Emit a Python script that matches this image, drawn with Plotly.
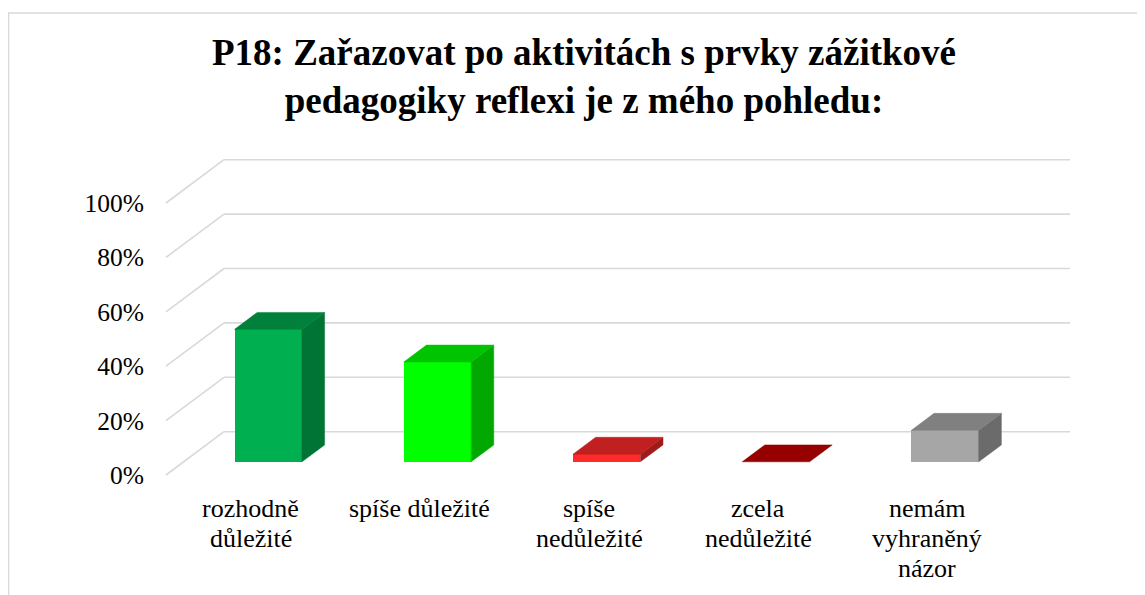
import plotly.graph_objects as go

# ---------------- data ----------------
categories = ["rozhodně důležité", "spíše důležité", "spíše nedůležité",
              "zcela nedůležité", "nemám vyhraněný názor"]
label_lines = [["rozhodně", "důležité"], ["spíše důležité"], ["spíše", "nedůležité"],
               ["zcela", "nedůležité"], ["nemám", "vyhraněný", "názor"]]
values = [48.7, 36.7, 2.8, 0.0, 11.6]          # percent
y_ticks = [0, 20, 40, 60, 80, 100]
y_tick_labels = ["0%", "20%", "40%", "60%", "80%", "100%"]
title_text = "P18: Zařazovat po aktivitách s prvky zážitkové<br>pedagogiky reflexi je z mého pohledu:"

front_colors = ["#00B050", "#00FF00", "#FF2B2B", "#C00000", "#A6A6A6"]
top_colors = ["#00803A", "#00C400", "#C02020", "#960000", "#808080"]
side_colors = ["#007434", "#00A800", "#A01A1A", "#7A0000", "#6B6B6B"]

# ---------------- pseudo-3D projection parameters ----------------
DX = 0.3428     # horizontal shift of full depth (category units)
DY = 15.92      # vertical shift of full depth (percent units)
ZF, ZB = 0.305, 0.695   # bar front/back depth fractions (0 = front, 1 = back)
BW = 0.398      # bar width in category units
FONT = "Liberation Serif"
GRID = "#D9D9D9"

W, H = 1137, 587          # page body has an 8px margin
L, T, PW, PH = 142, 132, 930, 350


def proj(xc, v, z):
    return xc - (1 - z) * DX, v - (1 - z) * DY


fig = go.Figure()

# front faces as real bars
xf = [proj(i + 0.5, 0, ZF)[0] for i in range(len(values))]
base = proj(0, 0, ZF)[1]
fig.add_trace(go.Bar(x=xf, y=values, base=base, width=BW,
                     marker=dict(color=front_colors, line=dict(width=0)),
                     hovertext=categories, showlegend=False))

dbx = (ZB - ZF) * DX
dby = (ZB - ZF) * DY
for i, v in enumerate(values):
    xl = xf[i] - BW / 2
    xr = xf[i] + BW / 2
    top = base + v
    if v > 0:
        fig.add_trace(go.Scatter(
            x=[xr, xr, xr + dbx, xr + dbx, xr], y=[base, top, top + dby, base + dby, base],
            fill="toself", fillcolor=side_colors[i], mode="lines",
            line=dict(width=0.5, color=side_colors[i]), hoverinfo="skip", showlegend=False))
    fig.add_trace(go.Scatter(
        x=[xl, xr, xr + dbx, xl + dbx, xl], y=[top, top, top + dby, top + dby, top],
        fill="toself", fillcolor=top_colors[i], mode="lines",
        line=dict(width=0.5, color=top_colors[i]), hoverinfo="skip", showlegend=False))

# gridlines: side wall diagonals + back wall horizontals
shapes = []
n = len(values)
for t in y_ticks:
    fx, fy = proj(0, t, 0)
    shapes.append(dict(type="line", xref="x", yref="y", x0=fx, y0=fy, x1=0, y1=t,
                       line=dict(color=GRID, width=1.6), layer="below"))
    shapes.append(dict(type="line", xref="x", yref="y", x0=0, y0=t, x1=n, y1=t,
                       line=dict(color=GRID, width=1.6), layer="below"))
# chart-area border (figure coords = screen - 8)
shapes.append(dict(type="rect", xref="paper", yref="paper",
                   x0=(0.5 - L) / PW, x1=(W + 20 - L) / PW,
                   y0=(T + PH - (H + 20)) / PH, y1=(T + PH - 5) / PH,
                   line=dict(color=GRID, width=1.6), fillcolor="rgba(0,0,0,0)", layer="below"))

# category labels (one annotation per wrapped line)
annotations = []
for i, lines in enumerate(label_lines):
    ax, ay = proj(i + 0.5, 0, 0)
    for k, ln in enumerate(lines):
        annotations.append(dict(x=ax, y=ay, xref="x", yref="y", text=ln, showarrow=False,
                                xanchor="center", yanchor="middle", yshift=-(33 + 30 * k),
                                font=dict(family=FONT, size=26, color="#000000")))

fig.update_layout(
    width=W, height=H,
    margin=dict(l=L, r=W - L - PW, t=T, b=H - T - PH),
    paper_bgcolor="white", plot_bgcolor="white",
    title=dict(text="<b>" + title_text + "</b>", x=(584 - 8) / W, xanchor="center",
               y=1 - 57 / H, yanchor="top", yref="container",
               font=dict(family=FONT, size=37, color="#000000")),
    xaxis=dict(range=[(150 - 224) / 169.2, (1080 - 224) / 169.2], visible=False, fixedrange=True),
    yaxis=dict(range=[(431.7 - 490) / 2.72, (431.7 - 140) / 2.72],
               tickvals=[proj(0, t, 0)[1] for t in y_ticks], ticktext=y_tick_labels,
               showgrid=False, zeroline=False, showline=False, ticks="",
               ticklabelstandoff=5,
               tickfont=dict(family=FONT, size=25.5, color="#000000"), fixedrange=True),
    shapes=shapes, annotations=annotations, bargap=0,
)

fig.write_html("out.html")
